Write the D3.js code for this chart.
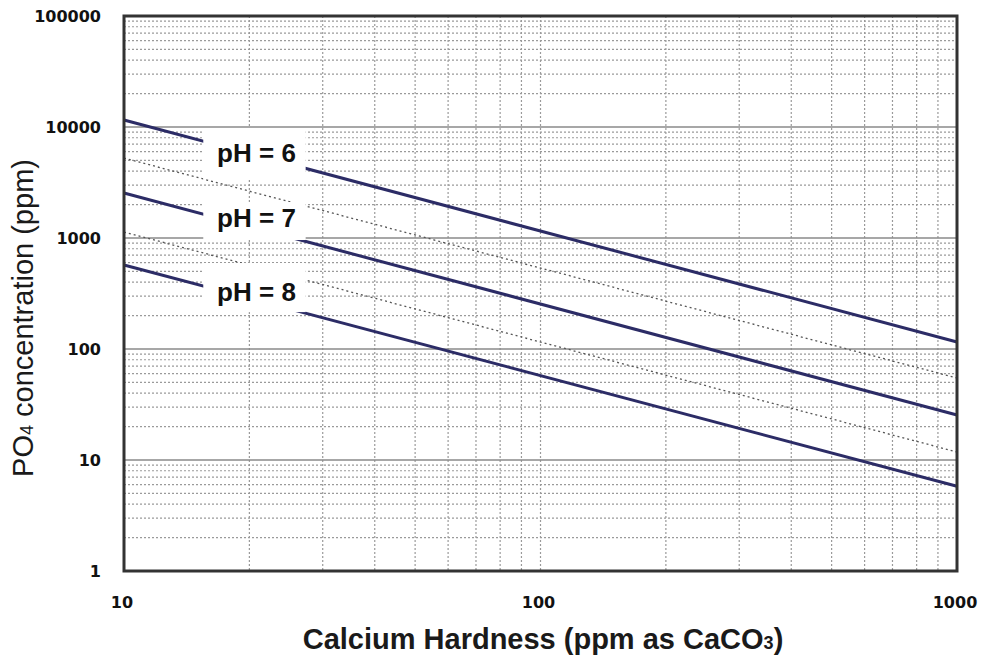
<!DOCTYPE html>
<html>
<head>
<meta charset="utf-8">
<script src="https://cdn.jsdelivr.net/npm/d3@7"></script>
<style>
    body { margin: 0; background: #fff; }
    svg { display: block; }
</style>
</head>
<body>
<script>
'use strict';

// calcium hardness end points of each line (ppm as CaCO3)
var hardness = [10, 1000];

// PO4 concentration at those end points (ppm)
var ph6Solid = [11560, 115.6];
var ph7Solid = [2544, 25.4];
var ph8Solid = [571, 5.8];
var ph6Dotted = [5250, 54.8];
var ph7Dotted = [1132, 11.8];

var xTickLabels = [10, 100, 1000];
var yTickLabels = [1, 10, 100, 1000, 10000, 100000];

var phLabels = ["pH = 6", "pH = 7", "pH = 8"];
var phLabelX = 20.8;
var phLabelY = [5890, 1514, 326];
// white boxes behind the labels, in data units
var boxX = [15.5, 27.3];
var boxTop = [9795, 2110, 595];
var boxBottom = [3400, 959, 215];

var W = 982, H = 658;
var margin = {top: 16, right: 25, bottom: 87, left: 124};

var svg = d3.select("body").append("svg")
    .attr("width", W)
    .attr("height", H);

var x = d3.scaleLog()
    .domain([10, 1000])
    .range([margin.left, W - margin.right]);

var y = d3.scaleLog()
    .domain([1, 100000])
    .range([H - margin.bottom, margin.top]);

function minorValues(lo, hi) {
    var out = [];
    for (var d = lo; d < hi; d *= 10) {
        for (var k = 2; k <= 9; k++) out.push(d * k);
    }
    return out;
}

var grid = svg.append("g");

// vertical grid, all dotted
grid.selectAll("line.vx")
    .data(minorValues(10, 1000).concat([100]))
    .enter().append("line")
    .attr("x1", function(d) { return x(d); })
    .attr("x2", function(d) { return x(d); })
    .attr("y1", y(100000))
    .attr("y2", y(1))
    .attr("stroke", "#9a9a9a")
    .attr("stroke-width", 1.2)
    .attr("stroke-dasharray", "2,2");

// horizontal minor grid, dotted
grid.selectAll("line.hy")
    .data(minorValues(1, 100000))
    .enter().append("line")
    .attr("x1", x(10))
    .attr("x2", x(1000))
    .attr("y1", function(d) { return y(d); })
    .attr("y2", function(d) { return y(d); })
    .attr("stroke", "#9a9a9a")
    .attr("stroke-width", 1.2)
    .attr("stroke-dasharray", "2,2");

// horizontal decade lines, solid
grid.selectAll("line.hmaj")
    .data(yTickLabels.slice(1, -1))
    .enter().append("line")
    .attr("x1", x(10))
    .attr("x2", x(1000))
    .attr("y1", function(d) { return y(d); })
    .attr("y2", function(d) { return y(d); })
    .attr("stroke", "#8a8a8a")
    .attr("stroke-width", 1.6);

var line = d3.line()
    .x(function(d) { return x(d[0]); })
    .y(function(d) { return y(d[1]); });

function pairs(vals) {
    return hardness.map(function(h, i) { return [h, vals[i]]; });
}

[ph6Dotted, ph7Dotted].forEach(function(s) {
    svg.append("path")
        .attr("d", line(pairs(s)))
        .attr("fill", "none")
        .attr("stroke", "#555")
        .attr("stroke-width", 1.3)
        .attr("stroke-dasharray", "2,3");
});

[ph6Solid, ph7Solid, ph8Solid].forEach(function(s) {
    svg.append("path")
        .attr("d", line(pairs(s)))
        .attr("fill", "none")
        .attr("stroke", "#2c2c66")
        .attr("stroke-width", 3);
});

// label boxes
svg.selectAll("rect.box")
    .data(boxTop)
    .enter().append("rect")
    .attr("x", x(boxX[0]))
    .attr("width", x(boxX[1]) - x(boxX[0]))
    .attr("y", function(d) { return y(d); })
    .attr("height", function(d, i) { return y(boxBottom[i]) - y(d); })
    .attr("fill", "#fff");

svg.selectAll("text.ph")
    .data(phLabels)
    .enter().append("text")
    .attr("x", x(phLabelX))
    .attr("y", function(d, i) { return y(phLabelY[i]); })
    .attr("dy", "0.36em")
    .attr("text-anchor", "middle")
    .attr("font-family", "Liberation Sans, Arial, sans-serif")
    .attr("font-weight", "bold")
    .attr("font-size", 26)
    .attr("fill", "#111")
    .text(function(d) { return d; });

// frame
svg.append("rect")
    .attr("x", x(10))
    .attr("y", y(100000))
    .attr("width", x(1000) - x(10))
    .attr("height", y(1) - y(100000))
    .attr("fill", "none")
    .attr("stroke", "#333")
    .attr("stroke-width", 3);

// tick labels
svg.selectAll("text.yt")
    .data(yTickLabels)
    .enter().append("text")
    .attr("x", margin.left - 23)
    .attr("y", function(d) { return y(d); })
    .attr("dy", "0.36em")
    .attr("text-anchor", "end")
    .attr("font-family", "DejaVu Sans, sans-serif")
    .attr("font-weight", "bold")
    .attr("font-size", 16)
    .attr("fill", "#111")
    .text(function(d) { return d; });

svg.selectAll("text.xt")
    .data(xTickLabels)
    .enter().append("text")
    .attr("x", function(d) { return x(d) - 2; })
    .attr("y", y(1) + 31)
    .attr("dy", "0.36em")
    .attr("text-anchor", "middle")
    .attr("font-family", "DejaVu Sans, sans-serif")
    .attr("font-weight", "bold")
    .attr("font-size", 16)
    .attr("fill", "#111")
    .text(function(d) { return d; });

// axis titles
var xt = svg.append("text")
    .attr("x", 543)
    .attr("y", 649)
    .attr("text-anchor", "middle")
    .attr("font-family", "Liberation Sans, Arial, sans-serif")
    .attr("font-weight", "bold")
    .attr("font-size", 29)
    .attr("fill", "#1a1a1a");
xt.append("tspan").text("Calcium Hardness (ppm as CaCO");
xt.append("tspan").attr("font-size", 18).text("3");
xt.append("tspan").text(")");

var yt = svg.append("text")
    .attr("transform", "translate(33,318) rotate(-90)")
    .attr("text-anchor", "middle")
    .attr("font-family", "Liberation Sans, Arial, sans-serif")
    .attr("font-size", 29)
    .attr("fill", "#1a1a1a");
yt.append("tspan").text("PO");
yt.append("tspan").attr("font-size", 18).text("4");
yt.append("tspan").text(" concentration (ppm)");
</script>
</body>
</html>
